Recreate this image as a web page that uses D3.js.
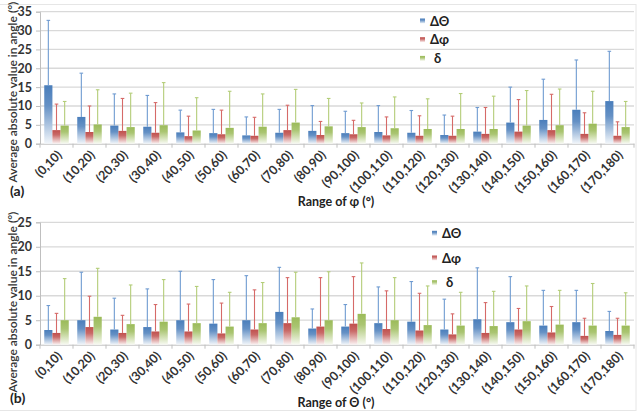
<!DOCTYPE html>
<html>
<head>
<meta charset="utf-8">
<script src="https://cdn.jsdelivr.net/npm/d3@7"></script>
<style>
html,body{margin:0;padding:0;background:#fff;}
svg{display:block;font-family:Lato,"Open Sans",sans-serif;}
</style>
</head>
<body>
<svg id="chart" width="641" height="417"></svg>
<script>
const categories = ["(0,10)","(10,20)","(20,30)","(30,40)","(40,50)","(50,60)","(60,70)","(70,80)","(80,90)","(90,100)","(100,110)","(110,120)","(120,130)","(130,140)","(140,150)","(150,160)","(160,170)","(170,180)"];
const seriesNames = ["ΔΘ","Δφ","δ"];
const seriesColors = ["#4a7ebb","#c0504d","#9bbb59"];
const errColors = ["#6f9bd1","#d66a68","#b3cd78"];

// Panel (a): by range of φ
const phi_dTheta     = [15.5,7.1,4.8,4.5,3.0,2.8,2.2,2.9,3.4,2.8,3.1,2.9,2.3,3.2,5.6,6.3,9.0,11.3];
const phi_dThetaErr  = [17.2,11.6,8.4,8.3,5.9,6.3,4.9,6.2,6.7,5.8,7.0,5.9,5.3,6.4,9.4,10.8,13.2,13.2];
const phi_dPhi       = [3.6,3.1,3.4,2.9,2.0,2.5,2.1,3.6,2.3,2.5,2.2,2.1,2.1,2.6,3.2,3.6,2.6,2.1];
const phi_dPhiErr    = [6.9,6.9,8.6,8.0,5.3,6.4,4.9,6.6,3.6,3.7,4.9,5.3,5.2,7.0,8.5,9.5,5.6,3.7];
const phi_delta      = [4.8,5.1,4.4,4.9,3.5,4.2,4.5,5.6,4.6,4.4,4.1,3.9,3.9,3.9,4.8,4.9,5.3,4.4];
const phi_deltaErr   = [6.4,9.2,9.0,11.3,8.7,9.7,8.7,8.8,7.4,6.4,8.3,8.0,9.4,8.7,9.3,9.6,8.6,6.8];
const phiTicks = [0,5,10,15,20,25,30,35];

// Panel (b): by range of Θ
const th_dTheta     = [3.0,5.0,3.1,3.6,5.0,4.3,5.0,6.7,3.3,3.7,4.4,4.7,3.1,5.2,4.6,3.9,4.6,2.8];
const th_dThetaErr  = [5.0,9.8,6.4,7.8,10.0,9.0,9.1,9.1,4.0,4.5,7.4,8.2,6.2,10.5,9.3,7.2,6.5,4.0];
const th_dPhi       = [2.4,3.6,2.4,2.7,2.7,2.3,3.1,4.4,3.7,4.3,3.2,2.9,2.1,2.4,3.1,2.5,1.8,2.0];
const th_dPhiErr    = [4.0,6.3,3.6,5.5,5.6,6.2,8.1,9.3,10.0,9.6,7.8,7.6,4.2,6.2,4.3,5.3,3.6,3.4];
const th_delta      = [5.0,5.7,4.2,4.7,4.4,3.7,4.4,5.6,5.0,6.3,5.0,4.0,3.9,3.8,4.8,4.1,3.9,3.9];
const th_deltaErr   = [8.5,9.9,8.0,8.6,7.5,7.0,8.3,9.2,9.9,10.4,8.7,8.0,6.8,7.1,7.2,7.0,8.6,6.7];
const thTicks = [0,5,10,15,20,25];

const svg = d3.select("#chart");
const defs = svg.append("defs");
seriesColors.forEach((c,i)=>{
  const g = defs.append("linearGradient").attr("id","grad"+i)
    .attr("x1",0).attr("y1",0).attr("x2",0).attr("y2",1);
  g.append("stop").attr("offset","0%").attr("stop-color",c);
  g.append("stop").attr("offset","35%").attr("stop-color",d3.interpolateRgb(c,"#ffffff")(0.15));
  g.append("stop").attr("offset","100%").attr("stop-color",d3.interpolateRgb(c,"#ffffff")(0.93));
});

function panel(opts){
  const {top,bottom,left,right,ymax,ticks,series,errs,label,xtitle,xtitleY,labelY,legendX,legendY,legendStep} = opts;
  const g = svg.append("g");
  const x = d3.scaleBand().domain(categories).range([left,right]).paddingInner(0).paddingOuter(0);
  const y = d3.scaleLinear().domain([0,ymax]).range([bottom,top]);
  const xs = d3.scaleBand().domain([0,1,2]).range([0,x.bandwidth()]).paddingInner(0).paddingOuter(0.52);

  // gridlines
  g.append("g").selectAll("line").data(ticks.filter(t=>t>0)).join("line")
    .attr("x1",left).attr("x2",right).attr("y1",d=>y(d)).attr("y2",d=>y(d))
    .attr("stroke","#d9d9d9").attr("stroke-width",1.3);

  // y axis
  const ya = g.append("g").attr("transform",`translate(${left},0)`)
    .call(d3.axisLeft(y).tickValues(ticks).tickSize(4).tickPadding(4));
  ya.select(".domain").attr("stroke","#bfbfbf");
  ya.selectAll(".tick line").attr("stroke","#bfbfbf");
  ya.selectAll("text").attr("font-size",12.5).attr("font-weight","bold").attr("fill","#333")
    .attr("font-family","Lato, sans-serif");

  // x axis
  const xa = g.append("g").attr("transform",`translate(0,${bottom})`)
    .call(d3.axisBottom(x).tickSize(0).tickFormat(""));
  xa.select(".domain").attr("stroke","#bfbfbf");
  xa.selectAll(".tick").remove();
  const bounds = d3.range(categories.length+1).map(i=>left+i*x.bandwidth());
  xa.selectAll("line.tk").data(bounds).join("line").attr("class","tk")
    .attr("x1",d=>d).attr("x2",d=>d).attr("y1",0).attr("y2",4).attr("stroke","#bfbfbf");

  // x labels rotated
  g.append("g").selectAll("text").data(categories).join("text")
    .attr("transform",d=>`translate(${x(d)+x.bandwidth()/2+3},${bottom+9}) rotate(-45)`)
    .attr("text-anchor","end").attr("dy","0.35em")
    .attr("font-size",12.5).attr("font-weight","bold").attr("fill","#333")
    .text(d=>d);

  // bars
  series.forEach((vals,si)=>{
    const sg = g.append("g");
    sg.selectAll("rect").data(vals).join("rect")
      .attr("x",(d,i)=>x(categories[i])+xs(si))
      .attr("width",xs.bandwidth())
      .attr("y",d=>y(d)).attr("height",d=>bottom-y(d))
      .attr("fill",`url(#grad${si})`);
    const eg = g.append("g").attr("stroke",errColors[si]).attr("stroke-width",1.1);
    eg.selectAll("line.v").data(vals).join("line").attr("class","v")
      .attr("x1",(d,i)=>x(categories[i])+xs(si)+xs.bandwidth()/2)
      .attr("x2",(d,i)=>x(categories[i])+xs(si)+xs.bandwidth()/2)
      .attr("y1",d=>y(d)).attr("y2",(d,i)=>y(d+errs[si][i]));
    eg.selectAll("line.c").data(vals).join("line").attr("class","c")
      .attr("x1",(d,i)=>x(categories[i])+xs(si)+xs.bandwidth()/2-1.8)
      .attr("x2",(d,i)=>x(categories[i])+xs(si)+xs.bandwidth()/2+1.8)
      .attr("y1",(d,i)=>y(d+errs[si][i])).attr("y2",(d,i)=>y(d+errs[si][i]));
  });

  // legend
  const lg = g.append("g");
  seriesNames.forEach((n,i)=>{
    lg.append("rect").attr("x",legendX).attr("y",legendY+i*legendStep-2.5).attr("width",5).attr("height",5)
      .attr("fill",`url(#grad${i})`);
    lg.append("text").attr("x",legendX+10+(i===2?4:0)).attr("y",legendY+i*legendStep).attr("dy","0.35em")
      .attr("font-size",13).attr("font-weight","bold").attr("fill","#222").text(n);
  });

  // y title
  g.append("text").attr("transform",`translate(13,${opts.ytitleY}) rotate(-90)`)
    .attr("text-anchor","middle").attr("dy","0.35em")
    .attr("font-size",12).attr("fill","#333").attr("font-weight","600")
    .text("Average absolute value in angle (°)");

  // x title
  g.append("text").attr("x",336).attr("y",xtitleY).attr("text-anchor","middle").attr("dy","0.35em")
    .attr("font-size",12.5).attr("font-weight","bold").attr("fill","#222").text(xtitle);

  // panel label
  g.append("text").attr("x",10).attr("y",labelY).attr("dy","0.35em")
    .attr("font-size",14).attr("font-weight","bold").attr("fill","#222").text(label);
}

// chart frame lines
svg.append("line").attr("x1",0).attr("x2",636).attr("y1",4.5).attr("y2",4.5).attr("stroke","#e6e6e6");
svg.append("line").attr("x1",636).attr("x2",636).attr("y1",4).attr("y2",411).attr("stroke","#e6e6e6");
svg.append("line").attr("x1",0).attr("x2",636).attr("y1",410.5).attr("y2",410.5).attr("stroke","#e6e6e6");

panel({top:11.7,bottom:143.7,left:40,right:634,ymax:35,ticks:phiTicks,
  series:[phi_dTheta,phi_dPhi,phi_delta],errs:[phi_dThetaErr,phi_dPhiErr,phi_deltaErr],
  label:"(a)",xtitle:"Range of φ (°)",xtitleY:202,labelY:191,ytitleY:92,
  legendX:420,legendY:21,legendStep:18.7});

panel({top:222.3,bottom:344.7,left:40,right:634,ymax:25,ticks:thTicks,
  series:[th_dTheta,th_dPhi,th_delta],errs:[th_dThetaErr,th_dPhiErr,th_deltaErr],
  label:"(b)",xtitle:"Range of Θ (°)",xtitleY:403,labelY:398,ytitleY:302,
  legendX:432,legendY:233.3,legendStep:24.7});
</script>
</body>
</html>
